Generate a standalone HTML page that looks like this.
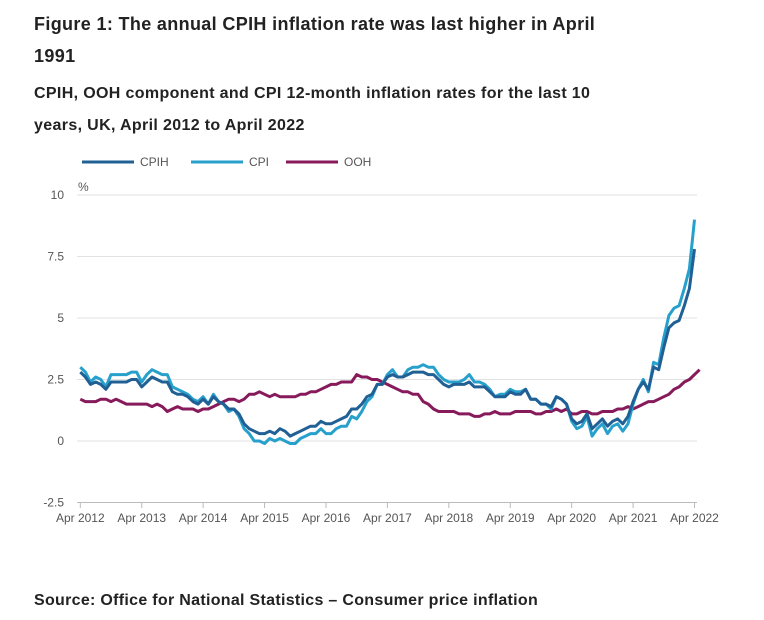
<!DOCTYPE html>
<html><head><meta charset="utf-8"><style>
body{margin:0;background:#fff;width:764px;height:620px;overflow:hidden;font-family:"Liberation Sans",sans-serif;color:#222}
.t{position:absolute;left:34px;font-weight:bold;margin:0}
</style></head><body>
<h1 class="t" style="top:8px;font-size:18px;line-height:32px;letter-spacing:0.35px;">Figure 1: The annual CPIH inflation rate was last higher in April<br>1991</h1>
<h2 class="t" style="top:78px;font-size:16px;line-height:32px;letter-spacing:0.35px;">CPIH, OOH component and CPI 12-month inflation rates for the last 10<br>years, UK, April 2012 to April 2022</h2>
<svg id="c" width="764" height="620" style="position:absolute;left:0;top:0" font-family="Liberation Sans, sans-serif"></svg>
<div class="t" style="top:592px;font-size:16px;letter-spacing:0.3px;">Source: Office for National Statistics – Consumer price inflation</div>
<script>
const yTicks=[-2.5,0,2.5,5,7.5,10];
const yTickLabels=["-2.5","0","2.5","5","7.5","10"];
const xTickLabels=["Apr 2012","Apr 2013","Apr 2014","Apr 2015","Apr 2016","Apr 2017","Apr 2018","Apr 2019","Apr 2020","Apr 2021","Apr 2022"];
const seriesNames=["CPIH","CPI","OOH"];
const cpih=[2.8,2.6,2.3,2.4,2.3,2.1,2.4,2.4,2.4,2.4,2.5,2.5,2.2,2.4,2.6,2.5,2.4,2.4,2.0,1.9,1.9,1.8,1.6,1.5,1.7,1.5,1.8,1.6,1.5,1.3,1.3,1.1,0.7,0.5,0.4,0.3,0.3,0.4,0.3,0.5,0.4,0.2,0.3,0.4,0.5,0.6,0.6,0.8,0.7,0.7,0.8,0.9,1.0,1.3,1.3,1.5,1.8,1.9,2.3,2.3,2.6,2.7,2.6,2.6,2.7,2.8,2.8,2.8,2.7,2.7,2.5,2.3,2.2,2.3,2.3,2.3,2.4,2.2,2.2,2.2,2.0,1.8,1.8,1.8,2.0,1.9,1.9,2.1,1.7,1.7,1.5,1.5,1.4,1.8,1.7,1.5,0.9,0.7,0.8,1.1,0.5,0.7,0.9,0.6,0.8,0.9,0.7,1.0,1.6,2.1,2.4,2.1,3.0,2.9,3.8,4.6,4.8,4.9,5.5,6.2,7.8];
const cpi=[3.0,2.8,2.4,2.6,2.5,2.2,2.7,2.7,2.7,2.7,2.8,2.8,2.4,2.7,2.9,2.8,2.7,2.7,2.2,2.1,2.0,1.9,1.7,1.6,1.8,1.5,1.9,1.6,1.5,1.2,1.3,1.0,0.5,0.3,0.0,0.0,-0.1,0.1,0.0,0.1,0.0,-0.1,-0.1,0.1,0.2,0.3,0.3,0.5,0.3,0.3,0.5,0.6,0.6,1.0,0.9,1.2,1.6,1.8,2.3,2.3,2.7,2.9,2.6,2.6,2.9,3.0,3.0,3.1,3.0,3.0,2.7,2.5,2.4,2.4,2.4,2.5,2.7,2.4,2.4,2.3,2.1,1.8,1.9,1.9,2.1,2.0,2.0,2.1,1.7,1.7,1.5,1.5,1.3,1.8,1.7,1.5,0.8,0.5,0.6,1.0,0.2,0.5,0.7,0.3,0.6,0.7,0.4,0.7,1.5,2.1,2.5,2.0,3.2,3.1,4.2,5.1,5.4,5.5,6.2,7.0,9.0];
const ooh=[1.7,1.6,1.6,1.6,1.7,1.7,1.6,1.7,1.6,1.5,1.5,1.5,1.5,1.5,1.4,1.5,1.4,1.2,1.3,1.4,1.3,1.3,1.3,1.2,1.3,1.3,1.4,1.5,1.6,1.7,1.7,1.6,1.7,1.9,1.9,2.0,1.9,1.8,1.9,1.8,1.8,1.8,1.8,1.9,1.9,2.0,2.0,2.1,2.2,2.3,2.3,2.4,2.4,2.4,2.7,2.6,2.6,2.5,2.5,2.4,2.3,2.2,2.1,2.0,2.0,1.9,1.9,1.6,1.5,1.3,1.2,1.2,1.2,1.2,1.1,1.1,1.1,1.0,1.0,1.1,1.1,1.2,1.1,1.1,1.1,1.2,1.2,1.2,1.2,1.1,1.1,1.2,1.2,1.3,1.2,1.3,1.1,1.1,1.2,1.2,1.1,1.1,1.2,1.2,1.2,1.3,1.3,1.4,1.3,1.4,1.5,1.6,1.6,1.7,1.8,1.9,2.1,2.2,2.4,2.5,2.7,2.9];
const svg=document.getElementById('c');const NS='http://www.w3.org/2000/svg';
const X0=80.3,YEAR=61.42;
const xS=i=>X0+i*YEAR/12;
const yS=v=>441-v*24.6;
function mk(t,a,txt){const e=document.createElementNS(NS,t);for(const k in a)e.setAttribute(k,a[k]);if(txt!=null)e.textContent=txt;svg.appendChild(e);return e;}
yTicks.forEach((v,i)=>{
 const g=mk('line',{x1:77,x2:697,y1:yS(v),y2:yS(v),stroke:v===-2.5?'#bbb':'#e2e2e2','stroke-width':1});
 
 
 const l=mk('text',{x:64,y:yS(v)+4,'text-anchor':'end','font-size':12,fill:'#555'},yTickLabels[i]);
 
 
});
const u=mk('text',{x:78,y:191,'font-size':12,fill:'#555'},'%');


xTickLabels.forEach((s,i)=>{
 const x=xS(i*12);
 const t=mk('line',{x1:x,x2:x,y1:502,y2:508,stroke:'#bbb'});
 
 
 const l=mk('text',{x:x,y:522,'text-anchor':'middle','font-size':12,fill:'#555'},s);
 
 
});
const colors=['#206095','#27a0cc','#871a5b'];
const data=[cpih,cpi,ooh];
const order=[2,1,0];
order.forEach(k=>{
 const d=data[k].map((v,i)=>(i?'L':'M')+xS(i).toFixed(1)+' '+yS(v).toFixed(1)).join(' ');
 const p=mk('path',{d:d,fill:'none',stroke:colors[k],'stroke-width':3,'stroke-linejoin':'round'});
 
 
});
const lx=[82,191,286];
seriesNames.forEach((n,k)=>{
 const l=mk('line',{x1:lx[k],x2:lx[k]+52,y1:162,y2:162,stroke:colors[k],'stroke-width':3});
 
 
 const t=mk('text',{x:lx[k]+58,y:166,'font-size':12,fill:'#555'},n);
 
 
});
</script>
</body></html>
